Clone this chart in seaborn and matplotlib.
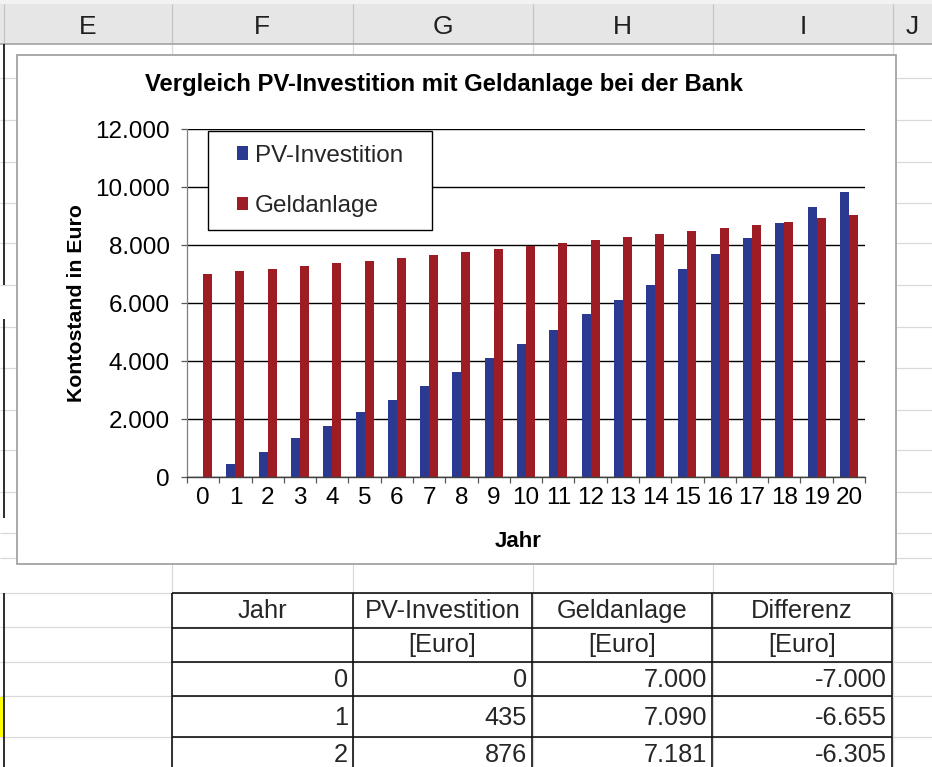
import numpy as np
import pandas as pd
import matplotlib
matplotlib.use("Agg")
import matplotlib.pyplot as plt
from matplotlib.patches import Rectangle
from matplotlib.lines import Line2D
import seaborn as sns

# ---- data -------------------------------------------------------------
jahre = list(range(21))
pv_investition = [0, 435, 876, 1345, 1759, 2241, 2655, 3138, 3621, 4103, 4586,
                  5069, 5621, 6103, 6621, 7172, 7690, 8241, 8759, 9310, 9828]
geldanlage = [7000, 7090, 7181, 7273, 7367, 7461, 7557, 7655, 7753, 7853, 7954,
              8056, 8159, 8264, 8370, 8478, 8587, 8697, 8809, 8922, 9037]
serien = ["PV-Investition", "Geldanlage"]
farben = ["#2B3990", "#9E1C24"]
y_werte = [0, 2000, 4000, 6000, 8000, 10000, 12000]
spalten = ["E", "F", "G", "H", "I", "J"]
kopf = ["Jahr", "PV-Investition", "Geldanlage", "Differenz"]
einheit = ["", "[Euro]", "[Euro]", "[Euro]"]
tabellen_jahre = jahre[:3]

titel = "Vergleich PV-Investition mit Geldanlage bei der Bank"
y_titel = "Kontostand in Euro"
x_titel = "Jahr"


def de(v):
    return f"{v:,.0f}".replace(",", ".")


# ---- figure / pixel helpers ------------------------------------------
W, H = 932, 767
sns.set_theme(style="white")
plt.rcParams["font.family"] = ["Liberation Sans", "DejaVu Sans"]
fig = plt.figure(figsize=(W / 100, H / 100), dpi=100)
fig.patch.set_facecolor("white")


def fx(x):
    return x / W


def fy(y):
    return 1 - y / H


def hline(y, x0, x1, color, lw, z):
    fig.add_artist(Line2D([fx(x0), fx(x1)], [fy(y), fy(y)], transform=fig.transFigure,
                          color=color, lw=lw, zorder=z, solid_capstyle="butt"))


def vline(x, y0, y1, color, lw, z):
    fig.add_artist(Line2D([fx(x), fx(x)], [fy(y0), fy(y1)], transform=fig.transFigure,
                          color=color, lw=lw, zorder=z, solid_capstyle="butt"))


def rect(x0, y0, x1, y1, fc, ec="none", lw=0, z=0.2):
    fig.add_artist(Rectangle((fx(x0), fy(y1)), fx(x1) - fx(x0), fy(y0) - fy(y1),
                             transform=fig.transFigure, facecolor=fc, edgecolor=ec,
                             lw=lw, zorder=z))


# ---- worksheet grid ---------------------------------------------------
spalten_grenzen = [172, 353, 533, 713, 893]
zeilen_grenzen = [78, 120, 162, 203, 243, 285, 327, 368, 410, 450, 492, 533,
                  558, 593, 627, 662, 696, 737]
grid_c = "#d9d9d9"
for y in zeilen_grenzen:
    hline(y, 0, W, grid_c, 0.9, 0.1)
for x in spalten_grenzen:
    vline(x, 44, H, grid_c, 0.9, 0.1)

# column header strip
rect(0, 0, W, 44, "#e6e6e6", z=0.3)
rect(0, 0, W, 4, "#f2f2f2", z=0.31)
for x in [4] + spalten_grenzen:
    vline(x, 4, 44, "#c4c4c4", 0.9, 0.32)
hline(44, 0, W, "#a8a8a8", 1.3, 0.33)
for s, xc in zip(spalten, [88, 262, 443, 622, 803, 912]):
    fig.text(fx(xc), fy(27), s, ha="center", va="center", fontsize=19,
             family=["Liberation Sans Narrow", "Liberation Sans"], color="#1f1f1f", zorder=0.4)

# bordered cells at the left edge
rect(0, 697, 4, 737, "#ffff00", z=0.15)
for y0, y1 in [(44, 285), (319, 518), (593, H)]:
    vline(4, y0, y1, "#1a1a1a", 1.3, 0.35)

# ---- chart object -----------------------------------------------------
rect(17, 55, 896, 564, "white", ec="#a3a3a3", lw=1.3, z=0.5)
fig.text(fx(444), fy(84), titel, ha="center", va="center", fontsize=17.2,
         fontweight="bold", color="black", zorder=3)

ax = fig.add_axes([fx(187), fy(477), fx(865) - fx(187), fy(129) - fy(477)])
ax.set_zorder(1)
ax.set_facecolor("white")

df = pd.DataFrame({
    "Jahr": jahre * 2,
    "Kontostand": pv_investition + geldanlage,
    "Serie": [serien[0]] * len(jahre) + [serien[1]] * len(jahre),
})
sns.barplot(data=df, x="Jahr", y="Kontostand", hue="Serie", hue_order=serien,
            palette=farben, saturation=1, width=0.56, gap=0, errorbar=None,
            edgecolor="none", linewidth=0, ax=ax)

ax.set_xlim(-0.5, len(jahre) - 0.5)
ax.set_ylim(y_werte[0], y_werte[-1])
ax.set_yticks(y_werte)
ax.set_yticklabels([de(v) for v in y_werte])
ax.set_xticks(range(len(jahre)))
ax.set_xticklabels([str(j) for j in jahre])
ax.set_xticks(np.arange(-0.5, len(jahre), 1), minor=True)
ax.tick_params(axis="x", which="major", length=0, pad=7, labelsize=17.5, labelcolor="black")
ax.tick_params(axis="x", which="minor", length=4.5, width=0.9, color="#595959",
               direction="out", bottom=True)
ax.tick_params(axis="y", which="major", length=4.5, width=0.9, color="#595959",
               direction="out", left=True, pad=8, labelsize=17.5, labelcolor="black")

ax.yaxis.grid(True, color="black", lw=1.0)
ax.xaxis.grid(False)
ax.set_axisbelow(True)
for side in ["top", "right"]:
    ax.spines[side].set_visible(False)
ax.spines["left"].set_color("#7f7f7f")
ax.spines["left"].set_linewidth(0.9)
ax.spines["bottom"].set_color("#404040")
ax.spines["bottom"].set_linewidth(1.0)

ax.set_ylabel(y_titel, fontsize=15.3, fontweight="bold", color="black")
ax.set_xlabel(x_titel, fontsize=16, fontweight="bold", color="black")
ax.yaxis.set_label_coords((86 - 187) / 678, 0.5)
ax.xaxis.set_label_coords((518 - 187) / 678, (477 - 531) / 348)

# legend: box plus entries
handles, labels = ax.get_legend_handles_labels()
ax.add_patch(Rectangle(((208 - 187) / 678, (477 - 230) / 348), 224 / 678, 99 / 348,
                       transform=ax.transAxes, facecolor="white", edgecolor="black",
                       lw=1.0, zorder=4, clip_on=False))
leg = ax.legend(handles, labels, loc="center left",
                bbox_to_anchor=((237 - 187) / 678, (477 - 181) / 348),
                frameon=False, fontsize=17.5, handlelength=0.45, handleheight=0.45,
                handletextpad=0.3, labelspacing=1.18, borderpad=0, borderaxespad=0)
leg.set_zorder(5)

# ---- value table below the chart --------------------------------------
tx = [172, 353, 532, 712, 892]
ty = [593, 628, 662, 696, 737]
for y in ty:
    hline(y, tx[0], tx[-1], "#111111", 1.2, 0.6)
for x in tx:
    vline(x, ty[0], H, "#111111", 1.2, 0.6)

tfs = 18.3
for i, (k, e) in enumerate(zip(kopf, einheit)):
    xc = (tx[i] + tx[i + 1]) / 2
    fig.text(fx(xc), fy(611), k, ha="center", va="center", fontsize=tfs, zorder=3)
    if e:
        fig.text(fx(xc), fy(645), e, ha="center", va="center", fontsize=tfs, zorder=3)

zeilen_y = [680, 718, 755]
for j, yc in zip(tabellen_jahre, zeilen_y):
    werte = [de(j), de(pv_investition[j]), de(geldanlage[j]),
             de(pv_investition[j] - geldanlage[j])]
    for i, w in enumerate(werte):
        fig.text(fx(tx[i + 1] - 5), fy(yc), w, ha="right", va="center",
                 fontsize=tfs, zorder=3)

fig.savefig("out.png", dpi=100)
